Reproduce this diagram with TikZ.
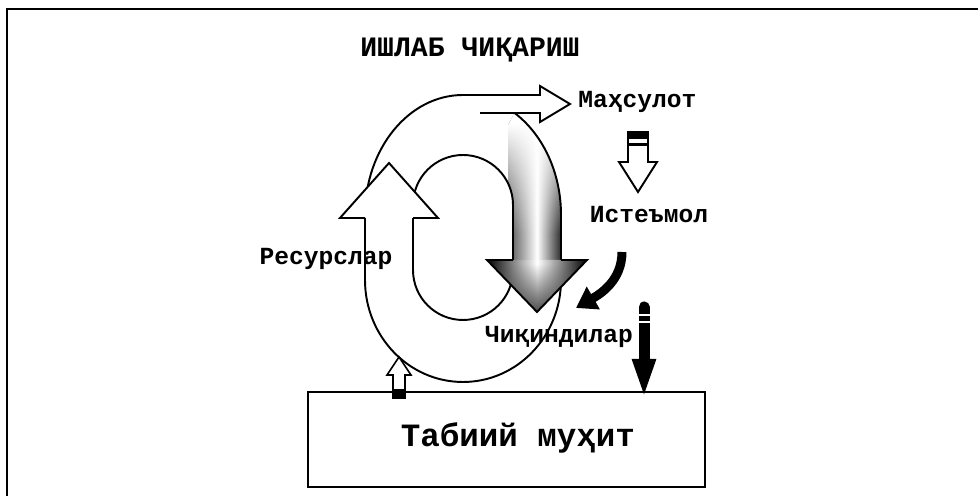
\documentclass[tikz,border=0pt]{standalone}
\usepackage{fontspec}
\setmonofont{Liberation Mono}
\usepackage{tikz}
\usetikzlibrary{positioning,arrows.meta,calc,fadings}

\begin{document}
\begin{tikzpicture}[x=0.02cm,y=0.02cm,>={Triangle[length=4mm,width=5mm]},
  lbl/.style={font=\ttfamily\bfseries\fontsize{14}{16}\selectfont,inner sep=0pt},
  ringline/.style={line width=1.1pt,line join=miter},
  blackbar/.style={line width=2.2mm,-{Triangle[length=8mm,width=4.2mm]}}]
\useasboundingbox (0,0) rectangle (978,496);
\draw[line width=1.1pt] (7,0) -- (7,487) -- (978,487);

\node[lbl,font=\ttfamily\bfseries\fontsize{16}{18}\selectfont] (title) at (470,446) {ИШЛАБ ЧИҚАРИШ};
\node[lbl,anchor=west] (mahsulot) at (578,394) {Маҳсулот};
\node[lbl] (istemol) at (649,281) {Истеъмол};
\node[lbl] (resurs) at (326,237) {Ресурслар};
\node[lbl] (chiqindi) at (559,159) {Чиқиндилар};

\begin{scope}
  \clip (514.6,383) arc[start angle=58.2,end angle=0,x radius=98,y radius=120]
    -- (561,236) -- (513,236) -- (513,291) arc[start angle=0,end angle=60,radius=50] -- cycle;
  \shade[left color=black!70,right color=black,middle color=white] (508,230) rectangle (566,400);
  \fill[white,path fading=south] (480,262) rectangle (570,372);
  \fill[white] (480,372) rectangle (570,400);
\end{scope}
\draw[ringline] (561,281) arc[start angle=0,end angle=180,x radius=98,y radius=120]
  -- (365,216) arc[start angle=180,end angle=360,x radius=98,y radius=102] -- cycle;
\draw[ringline] (513,291) arc[start angle=0,end angle=180,radius=50]
  -- (413,226) arc[start angle=180,end angle=360,radius=50] -- cycle;

\begin{scope}
  \clip (513,236) -- (487,236) -- (537,184) -- (587,236) -- cycle;
  \shade[left color=black,right color=black,middle color=white] (487,184) rectangle (587,236);
  \fill[black!70,path fading=north] (487,184) rectangle (587,232);
\end{scope}
\draw[ringline] (513,236) -- (487,236) -- (537,184) -- (587,236) -- (561,236);

\fill[white] (340,278) -- (389,333) -- (438,278) -- cycle;
\draw[ringline] (365,278) -- (340,278) -- (389,333) -- (438,278) -- (413,278);

\fill[white] (463,401) -- (540,401) -- (540,410) -- (570,392) -- (540,374) -- (540,383) -- (463,383) -- cycle;
\draw[ringline] (463,401) -- (540,401) -- (540,410) -- (570,392) -- (540,374) -- (540,383) -- (480,383);

\filldraw[fill=white,ringline] (628,364) -- (628,334) -- (619,334) -- (638,304) -- (657,334) -- (648,334) -- (648,364) -- cycle;
\fill (628,364) rectangle (648,357);
\fill (628,353) rectangle (648,350);

\coordinate (useS) at (622,244);
\coordinate (useE) at (576,188);
\draw[line width=1.8mm,->] (useS) to[out=-90,in=30] (useE);

\node[draw,line width=1.5pt,minimum width=7.94cm,minimum height=1.9cm] (muhit) at (506.5,56.5) {};
\node[lbl,font=\ttfamily\bfseries\fontsize{18.5}{20}\selectfont] (muhittxt) at (518,58) {Табиий муҳит};

\coordinate (wasteS) at (644,189);
\coordinate (wasteE) at (644,97);
\draw[blackbar,line cap=round] (wasteS) -- (wasteE);
\draw[white,line width=0.35mm] (636,181) -- (652,181) (636,174) -- (652,174);

\filldraw[fill=white,line width=0.9pt] (393,105) -- (393,121) -- (387,121) -- (399,139) -- (411,121) -- (405,121) -- (405,105);
\fill (392,107) rectangle (406,97);
\end{tikzpicture}
\end{document}
